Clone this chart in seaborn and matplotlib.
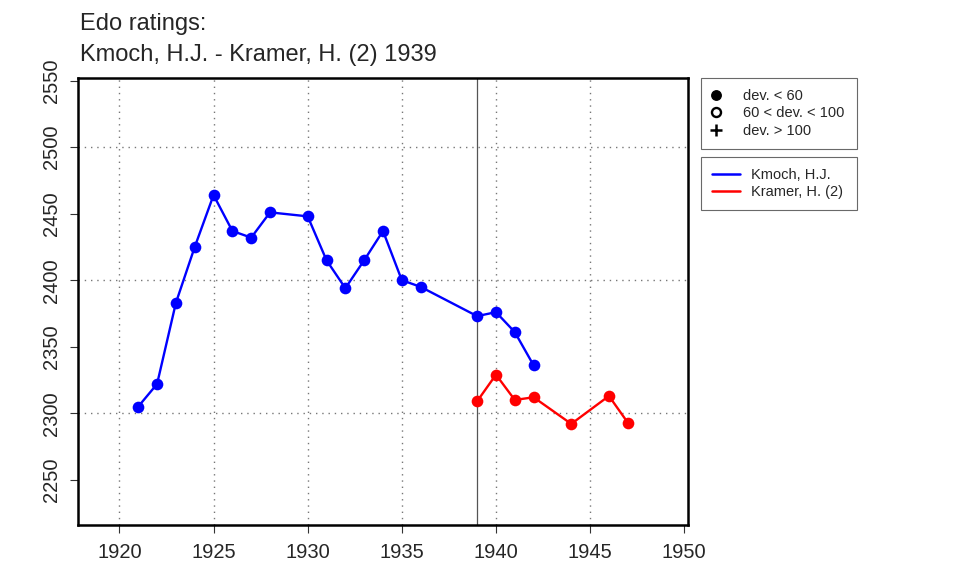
"""
Edo ratings chart: Kmoch, H.J. vs Kramer, H. (2), 1939 match.
Recreated with seaborn in an R base-graphics look.
"""

import matplotlib
matplotlib.use("Agg")
import matplotlib.pyplot as plt
from matplotlib.lines import Line2D
import pandas as pd
import seaborn as sns

# Data
kmoch_years = [1921, 1922, 1923, 1924, 1925, 1926, 1927, 1928, 1930, 1931,
               1932, 1933, 1934, 1935, 1936, 1939, 1940, 1941, 1942]
kmoch_ratings = [2305, 2322, 2383, 2425, 2464, 2437, 2432, 2451, 2448, 2415,
                 2394, 2415, 2437, 2400, 2395, 2373, 2376, 2361, 2336]
kramer_years = [1939, 1940, 1941, 1942, 1944, 1946, 1947]
kramer_ratings = [2309, 2329, 2310, 2312, 2292, 2313, 2293]

player_names = ["Kmoch, H.J.", "Kramer, H. (2)"]
player_colors = ["#0000FF", "#FF0000"]
match_year = 1939

x_ticks = [1920, 1925, 1930, 1935, 1940, 1945, 1950]
y_ticks = [2250, 2300, 2350, 2400, 2450, 2500, 2550]
x_grid = [1920, 1925, 1930, 1935, 1940, 1945]
y_grid = [2300, 2400, 2500]

title_lines = ["Edo ratings:", "Kmoch, H.J. - Kramer, H. (2) 1939"]
dev_labels = ["dev. < 60", "60 < dev. < 100", "dev. > 100"]

df = pd.concat([
    pd.DataFrame({"year": kmoch_years, "rating": kmoch_ratings, "player": player_names[0]}),
    pd.DataFrame({"year": kramer_years, "rating": kramer_ratings, "player": player_names[1]}),
], ignore_index=True)

sns.set_theme(style="white")
plt.rcParams["font.family"] = ["Liberation Sans", "DejaVu Sans"]

W, H = 960, 576
fig = plt.figure(figsize=(9.6, 5.76), dpi=100)
ax = fig.add_axes([78 / W, 1 - 525 / H, 610 / W, 447 / H])

# grid first, so data sits on top
for gx in x_grid:
    ax.axvline(gx, color="#777777", linestyle=(0, (1, 3.5)), linewidth=1.0, zorder=0)
for gy in y_grid:
    ax.axhline(gy, color="#777777", linestyle=(0, (1, 3.5)), linewidth=1.0, zorder=0)
ax.axvline(match_year, color="#555555", linewidth=0.9, zorder=1)

palette = dict(zip(player_names, player_colors))
sns.lineplot(
    data=df, x="year", y="rating", hue="player", palette=palette,
    marker="o", markersize=8.4, markeredgewidth=0, linewidth=1.7,
    legend=False, ax=ax, zorder=3,
)

ax.set_xlim(1917.8, 1950.2)
ax.set_ylim(2216, 2552)
ax.set_xticks(x_ticks)
ax.set_yticks(y_ticks)
ax.set_xticklabels([str(t) for t in x_ticks], fontsize=14.5)
ax.set_yticklabels([str(t) for t in y_ticks], fontsize=14.5, rotation=90, va="center")
ax.set_xlabel("")
ax.set_ylabel("")
ax.tick_params(axis="both", which="both", direction="out", length=6, width=0.8,
               color="#333333", bottom=True, left=True)
ax.tick_params(axis="x", pad=7)
ax.tick_params(axis="y", pad=6)
for spine in ax.spines.values():
    spine.set_visible(True)
    spine.set_color("black")
    spine.set_linewidth(1.8)

fig.text(80 / W, 1 - 30 / H, title_lines[0], fontsize=17, ha="left", va="baseline")
fig.text(80 / W, 1 - 61 / H, title_lines[1], fontsize=17, ha="left", va="baseline")

# deviation legend (marker styles)
dev_handles = [
    Line2D([], [], linestyle="none", marker="o", markersize=6.8, color="black"),
    Line2D([], [], linestyle="none", marker="o", markersize=6.5, markerfacecolor="none",
           markeredgecolor="black", markeredgewidth=1.7),
    Line2D([], [], linestyle="none", marker="+", markersize=9, color="black",
           markeredgewidth=1.8),
]
leg1 = fig.legend(dev_handles, dev_labels, loc="upper left", mode="expand",
                  bbox_to_anchor=(701 / W, 1 - 148 / H, 156 / W, 70 / H),
                  fontsize=10.5, frameon=True, fancybox=False, edgecolor="#444444",
                  borderpad=0.75, labelspacing=0.24, handlelength=0.6,
                  handletextpad=1.5, borderaxespad=0)
leg1.get_frame().set_linewidth(0.8)

player_handles = [Line2D([], [], color=c, linewidth=1.8) for c in player_colors]
leg2 = fig.legend(player_handles, player_names, loc="upper left", mode="expand",
                  bbox_to_anchor=(701 / W, 1 - 209 / H, 156 / W, 52 / H),
                  fontsize=10.5, frameon=True, fancybox=False, edgecolor="#444444",
                  borderpad=0.75, labelspacing=0.22, handlelength=1.95,
                  handletextpad=0.75, borderaxespad=0)
leg2.get_frame().set_linewidth(0.8)

fig.savefig("out.png", dpi=100)
